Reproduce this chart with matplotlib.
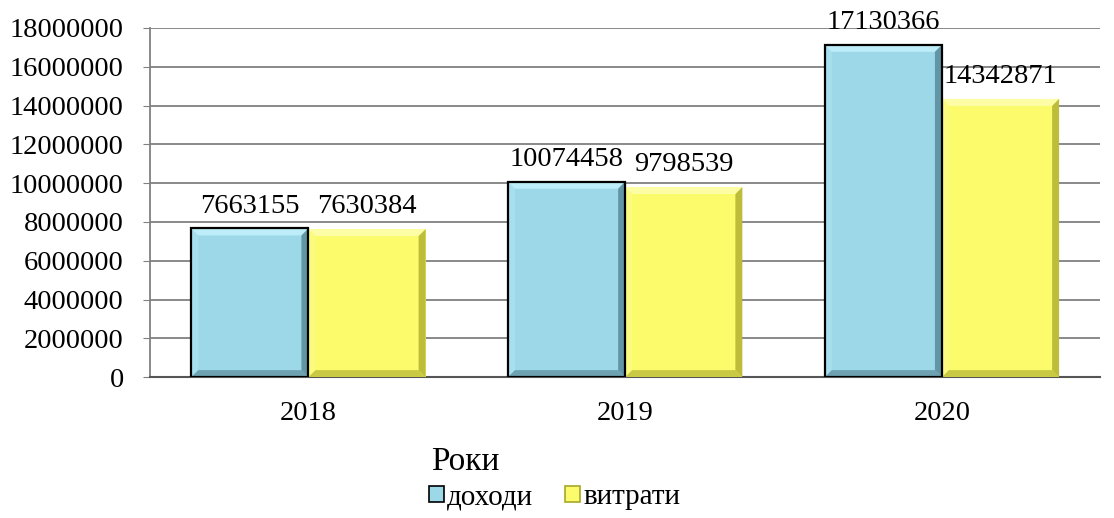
import matplotlib.pyplot as plt
from matplotlib.patches import Polygon, Rectangle
import numpy as np

plt.rcParams['font.family'] = ['Liberation Serif', 'DejaVu Serif']

years = ['2018', '2019', '2020']
income = [7663155, 10074458, 17130366]
expenses = [7630384, 9798539, 14342871]
series_names = ['доходи', 'витрати']


def bevel_bar(ax, x0, w, h, base, light, dark, edge, bx, by):
    ax.add_patch(Rectangle((x0, 0), w, h, facecolor=base, edgecolor='none', zorder=3))
    # top, left lighter; right, bottom darker
    ax.add_patch(Polygon([(x0, h), (x0 + w, h), (x0 + w - bx, h - by), (x0 + bx, h - by)],
                         closed=True, facecolor=light, edgecolor='none', zorder=3))
    ax.add_patch(Polygon([(x0, 0), (x0, h), (x0 + bx, h - by), (x0 + bx, by)],
                         closed=True, facecolor=light, edgecolor='none', alpha=0.35, zorder=3))
    ax.add_patch(Polygon([(x0 + w, 0), (x0 + w, h), (x0 + w - bx, h - by), (x0 + w - bx, by)],
                         closed=True, facecolor=dark, edgecolor='none', alpha=0.75, zorder=3))
    ax.add_patch(Polygon([(x0, 0), (x0 + w, 0), (x0 + w - bx, by), (x0 + bx, by)],
                         closed=True, facecolor=dark, edgecolor='none', alpha=0.6, zorder=3))
    if edge:
        ax.add_patch(Rectangle((x0, 0), w, h, facecolor='none', edgecolor=edge, lw=1.6, zorder=4))


def plotting():
    fig = plt.figure(figsize=(11.14, 5.18), dpi=100)
    ax = fig.add_axes([0.1347, 0.272, 0.853, 0.674])
    ax.set_xlim(-0.5, 2.5)
    ax.set_ylim(0, 18000000)
    ax.set_yticks(np.arange(0, 18000001, 2000000))
    ax.set_yticklabels([str(v) for v in range(0, 18000001, 2000000)])
    ax.set_xticks(range(len(years)))
    ax.set_xticklabels(years)
    ax.tick_params(axis='y', labelsize=20.5, length=5, color='#808080', pad=14)
    ax.tick_params(axis='x', labelsize=20.5, length=0, pad=17)
    ax.yaxis.grid(True, color='#808080', lw=1.3)
    ax.set_axisbelow(True)
    for s in ['top', 'right']:
        ax.spines[s].set_visible(False)
    ax.spines['left'].set_color('#808080')
    ax.spines['left'].set_linewidth(1.3)
    ax.spines['bottom'].set_color('#555555')
    ax.spines['bottom'].set_linewidth(1.5)

    w = 0.37
    # bevel size ~7 px
    px_x = (ax.get_xlim()[1] - ax.get_xlim()[0]) / (0.853 * 1114)
    px_y = (ax.get_ylim()[1] - ax.get_ylim()[0]) / (0.674 * 518)
    bx, by = 7 * px_x, 7 * px_y

    styles = [('#9DD8E9', '#BDEDF8', '#4F7F8E', 'black'),
              ('#FBFB6B', '#FDFDA6', '#A8A82A', None)]
    for i in range(len(years)):
        for j, vals in enumerate([income, expenses]):
            x0 = i - w + j * w
            base, light, dark, edge = styles[j]
            bevel_bar(ax, x0, w, vals[i], base, light, dark, edge, bx, by)
            ax.annotate(str(vals[i]), (x0 + w / 2, vals[i]), xytext=(0, 7),
                        textcoords='offset points', ha='center', va='bottom',
                        fontsize=20.5, zorder=5)

    fig.text(0.418, 0.108, 'Роки', fontsize=24, ha='center', va='center')

    handles = [Rectangle((0, 0), 1, 1, facecolor=styles[0][0], edgecolor='black', lw=1.2),
               Rectangle((0, 0), 1, 1, facecolor=styles[1][0], edgecolor='#A8A82A', lw=1.2)]
    fig.legend(handles, series_names, loc='center', bbox_to_anchor=(0.498, 0.04),
               ncol=2, frameon=False, fontsize=21, handlelength=0.5, handleheight=0.5,
               handletextpad=0.12, columnspacing=1.1)

    fig.savefig('out.png', dpi=100)


if __name__ == '__main__':
    plotting()
